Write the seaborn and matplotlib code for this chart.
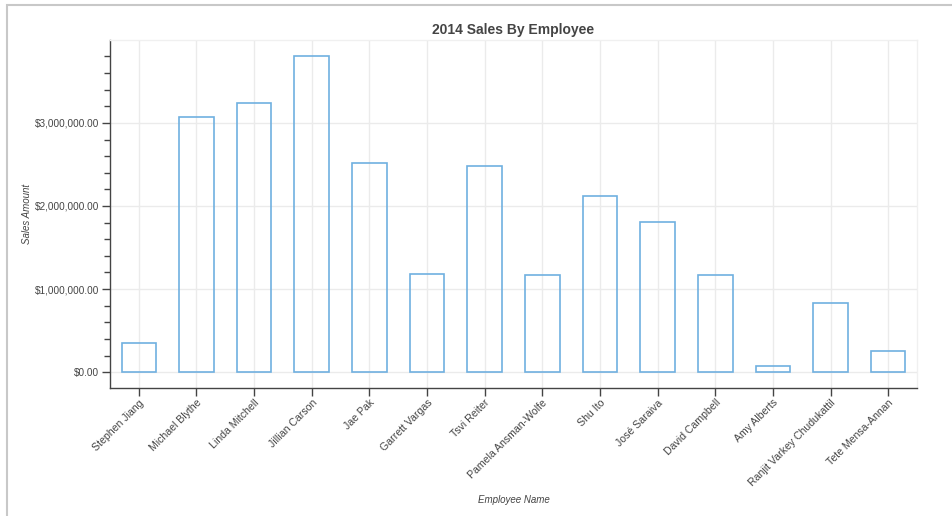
import pandas as pd
import matplotlib
matplotlib.use("Agg")
import matplotlib.pyplot as plt
import seaborn as sns
from matplotlib.ticker import FuncFormatter, MultipleLocator
from matplotlib.patches import Rectangle

# values
employees = ["Stephen Jiang", "Michael Blythe", "Linda Mitchell", "Jillian Carson",
             "Jae Pak", "Garrett Vargas", "Tsvi Reiter", "Pamela Ansman-Wolfe",
             "Shu Ito", "José Saraiva", "David Campbell", "Amy Alberts",
             "Ranjit Varkey Chudukattil", "Tete Mensa-Annan"]
sales = [352000, 3072000, 3238000, 3807000, 2522000, 1181000, 2478000,
         1168000, 2120000, 1812000, 1168000, 80000, 838000, 252000]

df = pd.DataFrame({"Employee Name": employees, "Sales Amount": sales})

sns.set_style("white")
plt.rcParams["font.family"] = ["Liberation Sans", "DejaVu Sans"]

fig = plt.figure(figsize=(9.52, 5.16), dpi=100)
ax = fig.add_axes([110 / 952, 1 - 388 / 516, (917 - 110) / 952, (388 - 40) / 516])

bar_col = "#70b0e0"
sns.barplot(data=df, x="Employee Name", y="Sales Amount", ax=ax,
            width=0.6, fill=False, color=bar_col, linewidth=1.2, zorder=3)
for p in ax.patches:
    p.set_edgecolor(bar_col)
    p.set_facecolor("none")

top = max(sales)
ax.set_ylim(-0.05 * top, 1.05 * top)
ax.set_xlim(-0.5, len(employees) - 0.5)

ax.yaxis.set_major_locator(MultipleLocator(1_000_000))
ax.yaxis.set_minor_locator(MultipleLocator(200_000))
ax.yaxis.set_major_formatter(FuncFormatter(lambda v, _: f"${v:,.2f}"))

ax.grid(True, which="major", color="#ebebeb", linewidth=1, zorder=0)
ax.set_axisbelow(True)

ax.tick_params(axis="y", which="major", direction="out", length=6, width=1,
               color="#444444", labelsize=7.2, labelcolor="#444444", pad=2, left=True)
ax.tick_params(axis="y", which="minor", direction="out", length=4, width=1,
               color="#444444", left=True)
ax.tick_params(axis="x", which="major", direction="out", length=6, width=1,
               color="#444444", labelsize=7.6, labelcolor="#444444", pad=1, bottom=True)

plt.setp(ax.get_xticklabels(), rotation=45, ha="right", rotation_mode="anchor")

for side in ["left", "bottom"]:
    ax.spines[side].set_color("#444444")
    ax.spines[side].set_linewidth(1)
for side in ["top", "right"]:
    ax.spines[side].set_color("#f0f0f0")
    ax.spines[side].set_linewidth(1)

ax.set_title("2014 Sales By Employee", fontsize=10, fontweight="bold",
             color="#444444", pad=4)
ax.set_ylabel("Sales Amount", fontsize=7, style="italic", color="#444444")
ax.set_xlabel("Employee Name", fontsize=7, style="italic", color="#444444")
ax.yaxis.set_label_coords(-78 / 807, 0.5)
ax.xaxis.set_label_coords(0.5, -(495 - 388) / 348)

# thin frame around the figure like the screenshot
fig.add_artist(Rectangle((7 / 952, -0.1), 1.2, 0.1 + (516 - 5) / 516,
                         transform=fig.transFigure, fill=False,
                         edgecolor="#c8c8c8", linewidth=1.5))

fig.savefig("out.png", dpi=100)
